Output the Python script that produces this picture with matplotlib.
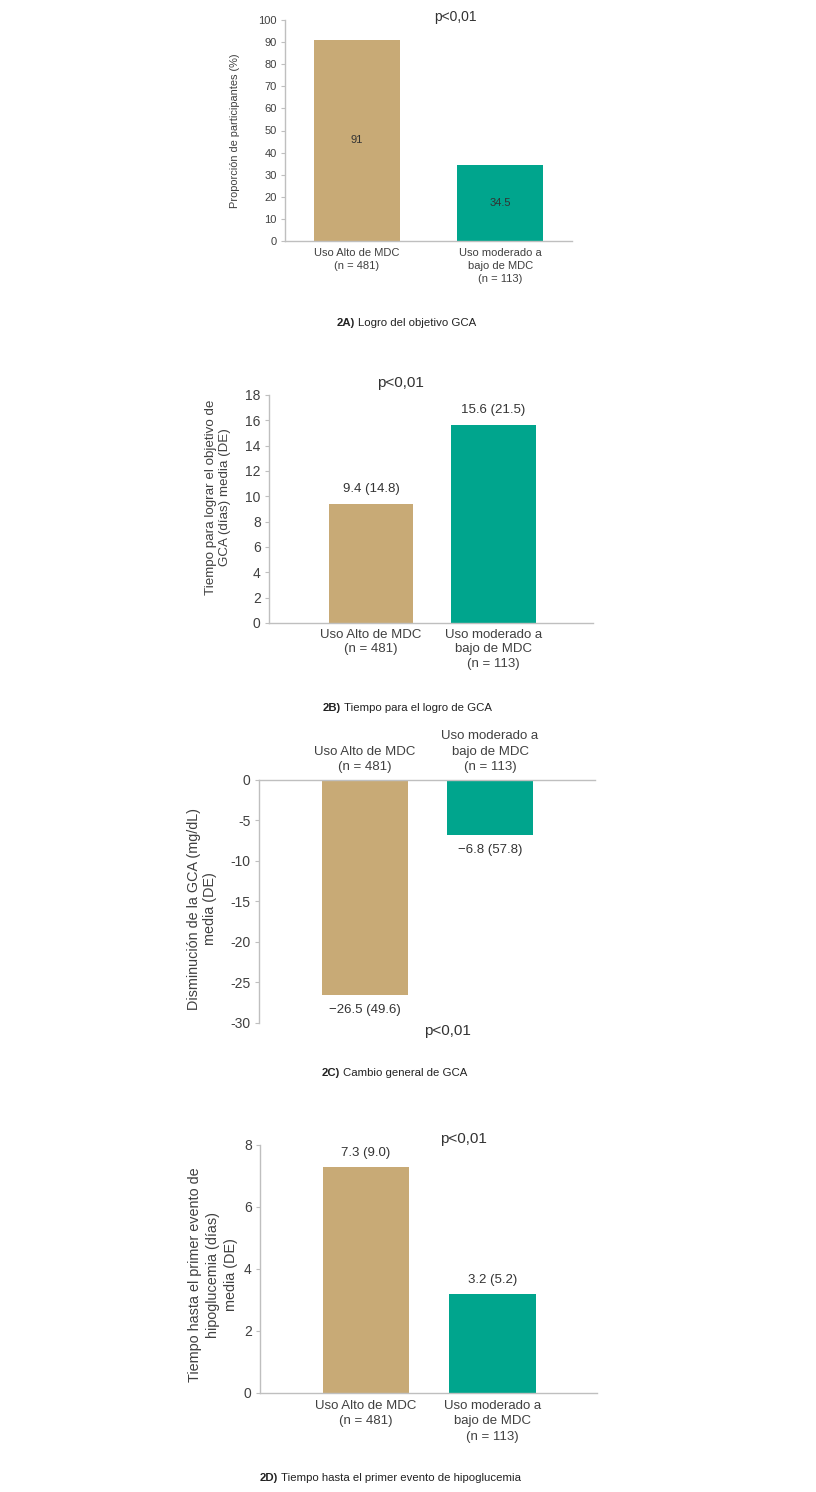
import matplotlib
matplotlib.use("Agg")
import matplotlib.pyplot as plt

plt.rcParams['font.family'] = ['Liberation Sans', 'DejaVu Sans']
plt.rcParams['axes.unicode_minus'] = False

# datos
grupos = ['Uso Alto de MDC\n(n = 481)', 'Uso moderado a\nbajo de MDC\n(n = 113)']
logro_pct = [91, 34.5]
tiempo_logro_media = [9.4, 15.6]
tiempo_logro_de = [14.8, 21.5]
cambio_gca_media = [-26.5, -6.8]
cambio_gca_de = [49.6, 57.8]
tiempo_hipo_media = [7.3, 3.2]
tiempo_hipo_de = [9.0, 5.2]
p_valor = 'p<0,01'

colores = ['#c8aa76', '#00a58d']
gris = '#bfbfbf'
texto = '#404040'

W, H = 816, 1492
fig = plt.figure(figsize=(W / 100, H / 100), dpi=100)


def caja(x0, y0, x1, y1):
    # pixeles -> fraccion de figura
    return [x0 / W, 1 - y1 / H, (x1 - x0) / W, (y1 - y0) / H]


def estilo(ax, tam, arriba=False):
    for s in ['right', 'bottom' if arriba else 'top']:
        ax.spines[s].set_visible(False)
    for s in ['left', 'top' if arriba else 'bottom']:
        ax.spines[s].set_color(gris)
        ax.spines[s].set_linewidth(1.0)
    ax.tick_params(axis='y', length=3, color=gris, labelsize=tam, labelcolor=texto, pad=3)
    ax.tick_params(axis='x', length=0, labelcolor=texto)


def leyenda(x0, y, negrita, resto, tam=8.2):
    t1 = fig.text(x0 / W, 1 - y / H, negrita, fontsize=tam, weight='bold',
                  va='center', ha='left', color='#222222')
    r = fig.canvas.get_renderer()
    w1 = t1.get_window_extent(r).width
    fig.text((x0 + w1 + 3) / W, 1 - y / H, resto, fontsize=tam,
             va='center', ha='left', color='#222222')


def ylab(x, y, s, tam, esp=1.15):
    fig.text(x / W, 1 - y / H, s, rotation=90, fontsize=tam, color=texto,
             ha='center', va='center', multialignment='center', linespacing=esp)


def ptext(x, y, tam):
    fig.text(x / W, 1 - y / H, p_valor, fontsize=tam, color='#333333',
             ha='center', va='center')


pos = [0, 1]

# 2A
ax = fig.add_axes(caja(285, 20, 572, 241))
ax.bar(pos, logro_pct, width=0.6, color=colores)
ax.set_xlim(-0.5, 1.5)
ax.set_ylim(0, 100)
ax.set_yticks(range(0, 101, 10))
estilo(ax, 8)
ax.set_xticks(pos)
ax.set_xticklabels(grupos, fontsize=8, linespacing=1.4)
ax.tick_params(axis='x', pad=5)
for i, v in enumerate(logro_pct):
    ax.text(i, v / 2, f'{v:g}', ha='center', va='center', fontsize=8, color='#333333')
ylab(235, 131, 'Proporción de participantes (%)', 7.9)
ptext(455, 17, 10)
leyenda(337, 323, '2A)', 'Logro del objetivo GCA')

# 2B
ax = fig.add_axes(caja(269, 395, 593, 623))
ax.bar(pos, tiempo_logro_media, width=0.69, color=colores)
ax.set_xlim(-0.833, 1.812)
ax.set_ylim(0, 18)
ax.set_yticks(range(0, 19, 2))
estilo(ax, 10)
ax.set_xticks(pos)
ax.set_xticklabels(grupos, fontsize=9.5, linespacing=1.3)
ax.tick_params(axis='x', pad=4)
for i, (m, d) in enumerate(zip(tiempo_logro_media, tiempo_logro_de)):
    ax.annotate(f'{m:.1f} ({d:.1f})', (i, m), xytext=(0, 11), textcoords='offset points',
                ha='center', va='center', fontsize=9.5, color='#333333')
ylab(218, 497, 'Tiempo para lograr el objetivo de\nGCA (días) media (DE)', 9.6)
ptext(400, 383, 11)
leyenda(323, 708, '2B)', 'Tiempo para el logro de GCA')

# 2C
ax = fig.add_axes(caja(259, 780, 595, 1023))
ax.bar(pos, cambio_gca_media, width=0.69, color=colores)
ax.set_xlim(-0.848, 1.84)
ax.set_ylim(-30, 0)
ax.set_yticks(range(-30, 1, 5))
estilo(ax, 10, arriba=True)
ax.xaxis.tick_top()
ax.set_xticks(pos)
ax.set_xticklabels(grupos, fontsize=9.5, linespacing=1.38)
ax.tick_params(axis='x', pad=5)
for i, (m, d) in enumerate(zip(cambio_gca_media, cambio_gca_de)):
    ax.annotate(f'\u2212{abs(m):.1f} ({d:.1f})', (i, m), xytext=(0, -11), textcoords='offset points',
                ha='center', va='center', fontsize=9.5, color='#333333')
ylab(202, 909, 'Disminución de la GCA (mg/dL)\nmedia (DE)', 10.4, 1.25)
ptext(447, 1031, 11)
leyenda(322, 1073, '2C)', 'Cambio general de GCA')

# 2D
ax = fig.add_axes(caja(260, 1145, 597, 1393))
ax.bar(pos, tiempo_hipo_media, width=0.68, color=colores)
ax.set_xlim(-0.838, 1.826)
ax.set_ylim(0, 8)
ax.set_yticks(range(0, 9, 2))
estilo(ax, 10)
ax.set_xticks(pos)
ax.set_xticklabels(grupos, fontsize=9.5, linespacing=1.38)
ax.tick_params(axis='x', pad=5)
for i, (m, d) in enumerate(zip(tiempo_hipo_media, tiempo_hipo_de)):
    ax.annotate(f'{m:.1f} ({d:.1f})', (i, m), xytext=(0, 10), textcoords='offset points',
                ha='center', va='center', fontsize=9.5, color='#333333')
ylab(213, 1275, 'Tiempo hasta el primer evento de\nhipoglucemia (días)\nmedia (DE)', 10.4, 1.35)
ptext(463, 1139, 11)
leyenda(260, 1478, '2D)', 'Tiempo hasta el primer evento de hipoglucemia')

fig.savefig('out.png', dpi=100, facecolor='white')
